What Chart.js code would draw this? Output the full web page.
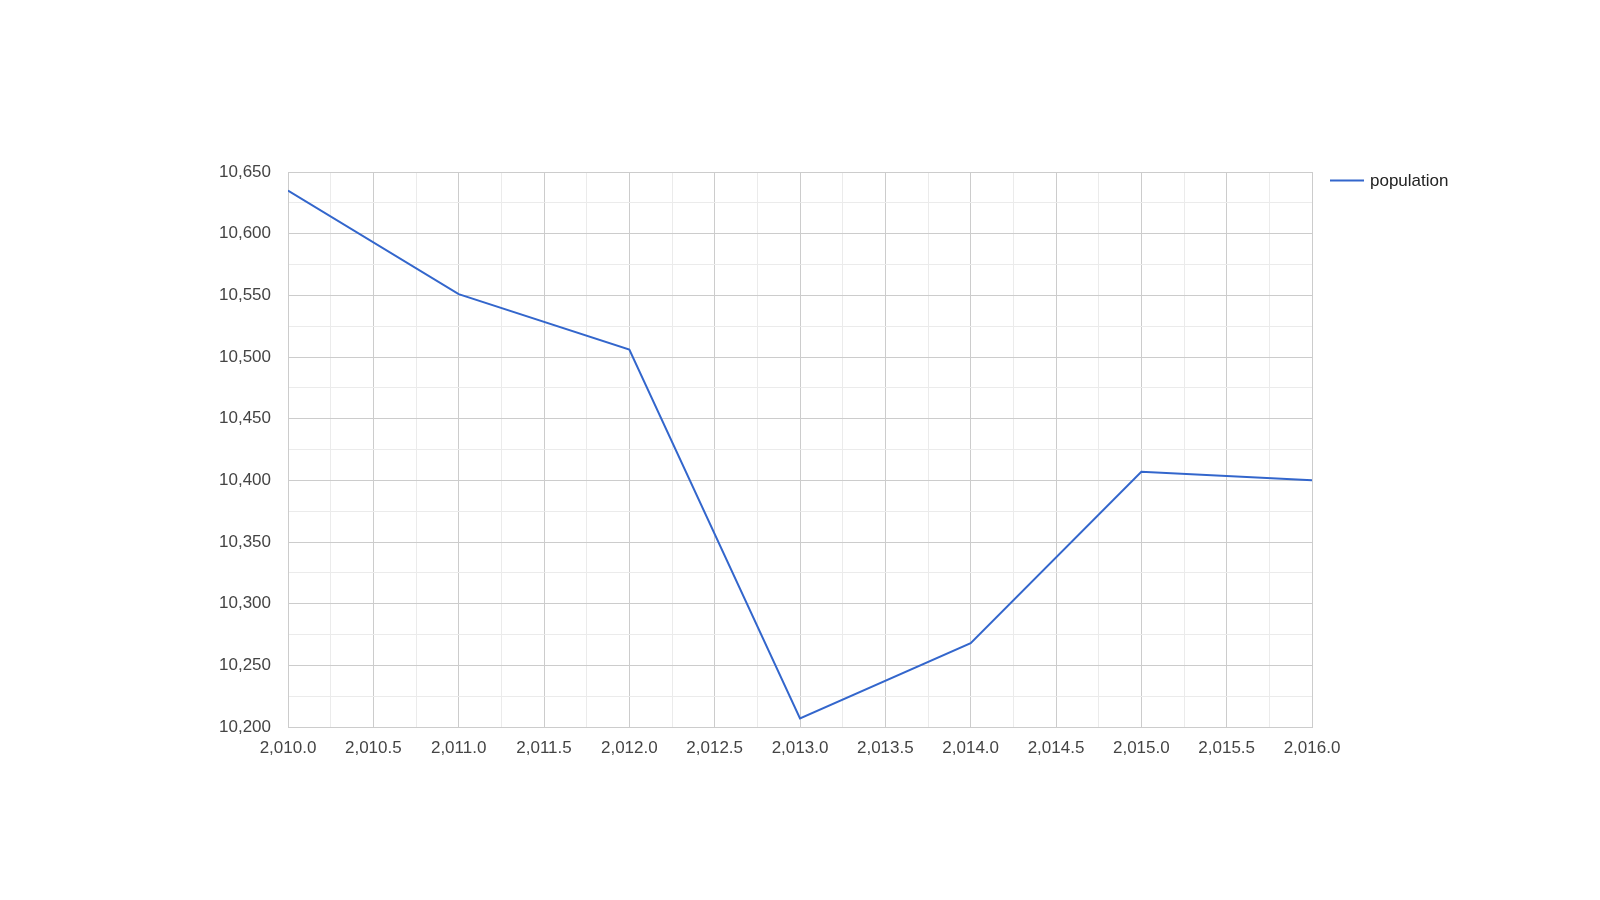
<!DOCTYPE html>
<html>
<head>
<meta charset="utf-8">
<script src="https://cdn.jsdelivr.net/npm/chart.js@4"></script>
<style>
  html, body { margin: 0; padding: 0; background: #fff; }
  #grafico { display: block; }
</style>
</head>
<body>
<canvas id="grafico" width="1600" height="900"></canvas>
<script>
// dados
const anos = [2010, 2011, 2012, 2013, 2014, 2015, 2016];
const populacao = [10635, 10551, 10506, 10207, 10268, 10407, 10400];
const serie = 'population';

const xMin = 2010, xMax = 2016, xPasso = 0.25;
const yMin = 10200, yMax = 10650, yPasso = 25;

const fmtX = v => v.toLocaleString('en-US', { minimumFractionDigits: 1, maximumFractionDigits: 1 });
const fmtY = v => v.toLocaleString('en-US');

// legenda desenhada à direita, no estilo da referência
const legendaPlugin = {
    id: 'legendaDireita',
    afterDraw(chart) {
        const ctx = chart.ctx;
        const ds = chart.data.datasets[0];
        const x = chart.chartArea.right + 18, y = 180.5;
        ctx.save();
        ctx.strokeStyle = ds.borderColor;
        ctx.lineWidth = 2;
        ctx.beginPath();
        ctx.moveTo(x, y);
        ctx.lineTo(x + 34, y);
        ctx.stroke();
        ctx.fillStyle = '#222';
        ctx.font = '17px "Liberation Sans", Arial, sans-serif';
        ctx.textBaseline = 'middle';
        ctx.fillText(ds.label, x + 40, y + 1);
        ctx.restore();
    }
};

window.onload = () => {
    const contexto = document.getElementById('grafico');
    new Chart(contexto, {
        type: 'line',
        data: {
            datasets: [{
                label: serie,
                data: anos.map((a, i) => ({ x: a, y: populacao[i] })),
                borderColor: '#3366cc',
                borderWidth: 2,
                pointRadius: 0,
                tension: 0,
                fill: false
            }]
        },
        options: {
            responsive: false,
            animation: false,
            layout: { padding: { left: 0, top: 172, right: 288, bottom: 0 } },
            plugins: { legend: { display: false }, tooltip: { enabled: false } },
            scales: {
                x: {
                    type: 'linear',
                    min: xMin, max: xMax,
                    afterFit: s => { s.height = 173; },
                    border: { color: '#ccc' },
                    grid: {
                        drawTicks: false,
                        color: c => (c.tick && Math.abs(c.tick.value * 2 - Math.round(c.tick.value * 2)) < 1e-6) ? '#cccccc' : '#ebebeb'
                    },
                    ticks: {
                        stepSize: xPasso,
                        autoSkip: false,
                        maxRotation: 0,
                        padding: 11,
                        color: '#444',
                        font: { family: '"Liberation Sans", Arial, sans-serif', size: 17 },
                        callback: v => Math.abs(v * 2 - Math.round(v * 2)) < 1e-6 ? fmtX(v) : ''
                    }
                },
                y: {
                    min: yMin, max: yMax,
                    afterFit: s => { s.width = 288; },
                    border: { color: '#ccc' },
                    grid: {
                        drawTicks: false,
                        color: c => (c.tick && c.tick.value % 50 === 0) ? '#cccccc' : '#ebebeb'
                    },
                    ticks: {
                        stepSize: yPasso,
                        autoSkip: false,
                        padding: 17,
                        color: '#444',
                        font: { family: '"Liberation Sans", Arial, sans-serif', size: 17 },
                        callback: v => v % 50 === 0 ? fmtY(v) : ''
                    }
                }
            }
        },
        plugins: [legendaPlugin]
    });
}
</script>
</body>
</html>
